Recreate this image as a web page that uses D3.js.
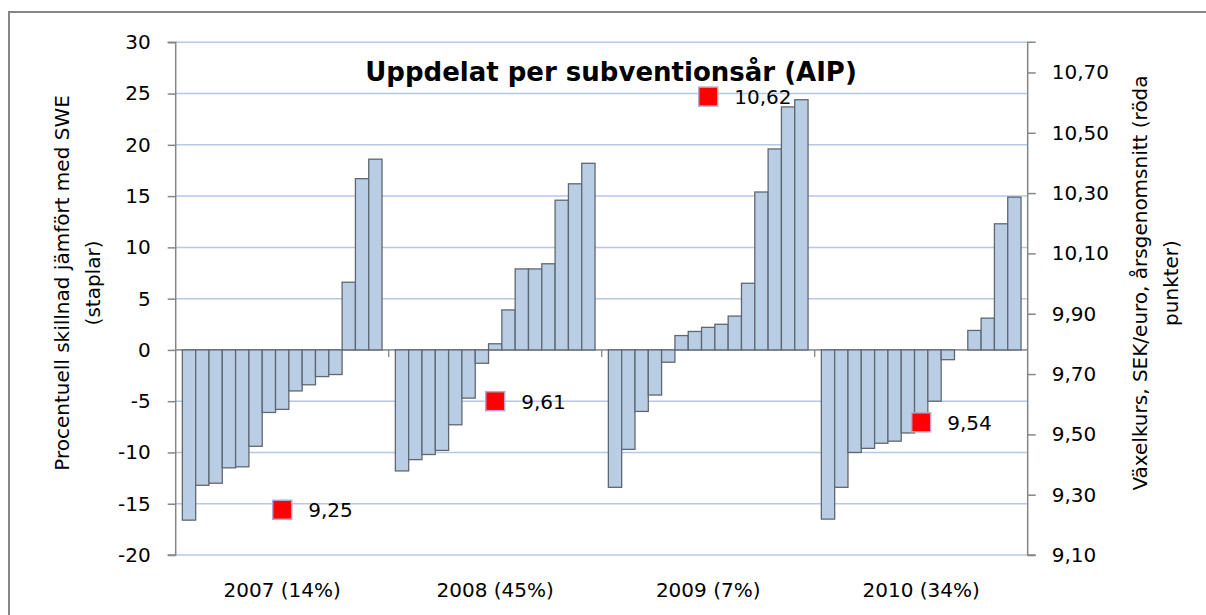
<!DOCTYPE html>
<html>
<head>
<meta charset="utf-8">
<script src="https://cdn.jsdelivr.net/npm/d3@7"></script>
<style>
  body { margin: 0; background: #fff; }
  svg { font-family: "DejaVu Sans", sans-serif; }
</style>
</head>
<body>
<svg width="1206" height="615"></svg>
<script>
// kategorier (subventionsår)
const years = ["2007 (14%)", "2008 (45%)", "2009 (7%)", "2010 (34%)"];

// staplar, procentuell skillnad mot SWE, 15 per år
const bars2007 = [-16.6, -13.2, -13.0, -11.5, -11.4, -9.4, -6.1, -5.8, -4.0, -3.4, -2.6, -2.4, 6.6, 16.7, 18.6];
const bars2008 = [-11.8, -10.7, -10.2, -9.8, -7.3, -4.7, -1.3, 0.6, 3.9, 7.9, 7.9, 8.4, 14.6, 16.2, 18.2];
const bars2009 = [-13.4, -9.7, -6.0, -4.4, -1.2, 1.4, 1.8, 2.2, 2.5, 3.3, 6.5, 15.4, 19.6, 23.7, 24.4];
const bars2010 = [-16.5, -13.4, -10.0, -9.6, -9.1, -8.9, -8.1, -7.9, -5.0, -0.95, null, 1.9, 3.1, 12.3, 14.9];

// växelkurs SEK/euro (röda punkter)
const rates = [9.25, 9.61, 10.62, 9.54];

// axlar
const leftTicks = [-20, -15, -10, -5, 0, 5, 10, 15, 20, 25, 30];
const rightTicks = [9.1, 9.3, 9.5, 9.7, 9.9, 10.1, 10.3, 10.5, 10.7];

const svg = d3.select("svg");
const plotLeft = 175.7, plotRight = 1027.7, plotTop = 42.3, plotBottom = 555;

const allBars = [bars2007, bars2008, bars2009, bars2010];

const x0 = d3.scaleBand().domain(years).range([plotLeft, plotRight]).padding(0);
const x1 = d3.scaleBand().domain(d3.range(15)).range([0, x0.bandwidth()])
    .paddingInner(0).paddingOuter(0.5);
const y = d3.scaleLinear().domain([-20, 30]).range([plotBottom, plotTop]);
const y2 = d3.scaleLinear().domain([9.1, 10.8]).range([plotBottom, plotTop]);

const gray = "#868686";

// ram runt diagrammet
svg.append("rect")
    .attr("x", 9).attr("y", 12)
    .attr("width", 1400).attr("height", 800)
    .attr("fill", "none")
    .attr("stroke", gray)
    .attr("stroke-width", 2);

// stödlinjer
svg.append("g")
    .selectAll("line")
    .data(leftTicks)
    .join("line")
    .attr("x1", plotLeft).attr("x2", plotRight)
    .attr("y1", d => y(d)).attr("y2", d => y(d))
    .attr("stroke", "#b5c8e8")
    .attr("stroke-width", 1.5);

// kategoriaxel vid noll
svg.append("line")
    .attr("x1", plotLeft).attr("x2", plotRight)
    .attr("y1", y(0)).attr("y2", y(0))
    .attr("stroke", gray).attr("stroke-width", 1.3);
svg.append("g")
    .selectAll("line")
    .data(years.slice(1))
    .join("line")
    .attr("x1", d => x0(d)).attr("x2", d => x0(d))
    .attr("y1", y(0)).attr("y2", y(0) + 7)
    .attr("stroke", gray).attr("stroke-width", 1.3);

// staplar
const groups = svg.append("g")
    .selectAll("g")
    .data(years)
    .join("g")
    .attr("transform", d => `translate(${x0(d)},0)`);

groups.selectAll("rect")
    .data((d, i) => allBars[i].map((v, j) => ({ j, v })).filter(b => b.v !== null))
    .join("rect")
    .attr("x", d => x1(d.j))
    .attr("width", x1.bandwidth())
    .attr("y", d => y(Math.max(0, d.v)))
    .attr("height", d => Math.abs(y(d.v) - y(0)))
    .attr("fill", "#b9cde5")
    .attr("stroke", "#5f6872")
    .attr("stroke-width", 1.3);

// vänster axel
const fmtLeft = d => String(d).replace("\u2212", "-");
const yAxis = svg.append("g")
    .attr("transform", `translate(${plotLeft},0)`)
    .call(d3.axisLeft(y).tickValues(leftTicks).tickSize(8).tickPadding(17).tickFormat(fmtLeft));

// höger axel
const fmtRight = d => d3.format(".2f")(d).replace(".", ",");
const y2Axis = svg.append("g")
    .attr("transform", `translate(${plotRight},0)`)
    .call(d3.axisRight(y2).tickValues(rightTicks).tickSize(8).tickPadding(16).tickFormat(fmtRight));

[yAxis, y2Axis].forEach(a => {
    a.select(".domain").attr("stroke", gray).attr("stroke-width", 1.5);
    a.selectAll(".tick line").attr("stroke", gray).attr("stroke-width", 1.5);
    a.selectAll("text")
        .attr("font-family", "DejaVu Sans")
        .attr("font-size", 20)
        .attr("fill", "#000");
});
yAxis.select(".domain").attr("d", `M-8,${plotTop}H0V${plotBottom}H-8`);
y2Axis.select(".domain").attr("d", `M8,${plotTop}H0V${plotBottom}H8`);

// kategorietiketter
svg.append("g")
    .selectAll("text")
    .data(years)
    .join("text")
    .attr("x", d => x0(d) + x0.bandwidth() / 2)
    .attr("y", 597)
    .attr("text-anchor", "middle")
    .attr("font-size", 20)
    .text(d => d);

// röda punkter
const px = (d, i) => x0(years[i]) + x0.bandwidth() / 2;
svg.append("g")
    .selectAll("rect")
    .data(rates)
    .join("rect")
    .attr("x", (d, i) => px(d, i) - 9.5)
    .attr("y", d => y2(d) - 9.5)
    .attr("width", 19).attr("height", 19)
    .attr("fill", "#ff0000")
    .attr("stroke", "#b4a9cc")
    .attr("stroke-width", 1.5);

svg.append("g")
    .selectAll("text")
    .data(rates)
    .join("text")
    .attr("x", (d, i) => px(d, i) + 26)
    .attr("y", d => y2(d))
    .attr("dy", "0.38em")
    .attr("font-size", 20)
    .text(d => fmtRight(d));

// titel
svg.append("text")
    .attr("x", 611)
    .attr("y", 81)
    .attr("text-anchor", "middle")
    .attr("font-size", 26)
    .attr("font-weight", "bold")
    .text("Uppdelat per subventionsår (AIP)");

// axeltitlar
const leftTitle = svg.append("text")
    .attr("transform", "translate(62,283) rotate(-90)")
    .attr("text-anchor", "middle")
    .attr("font-size", 20);
leftTitle.append("tspan").attr("x", 0).attr("dy", "0.36em").text("Procentuell skillnad jämfört med SWE");
leftTitle.append("tspan").attr("x", 0).attr("dy", 31).text("(staplar)");

const rightTitle = svg.append("text")
    .attr("transform", "translate(1140,283) rotate(-90)")
    .attr("text-anchor", "middle")
    .attr("font-size", 20);
rightTitle.append("tspan").attr("x", 0).attr("dy", "0.36em").text("Växelkurs, SEK/euro, årsgenomsnitt (röda");
rightTitle.append("tspan").attr("x", 0).attr("dy", 31).text("punkter)");
</script>
</body>
</html>
